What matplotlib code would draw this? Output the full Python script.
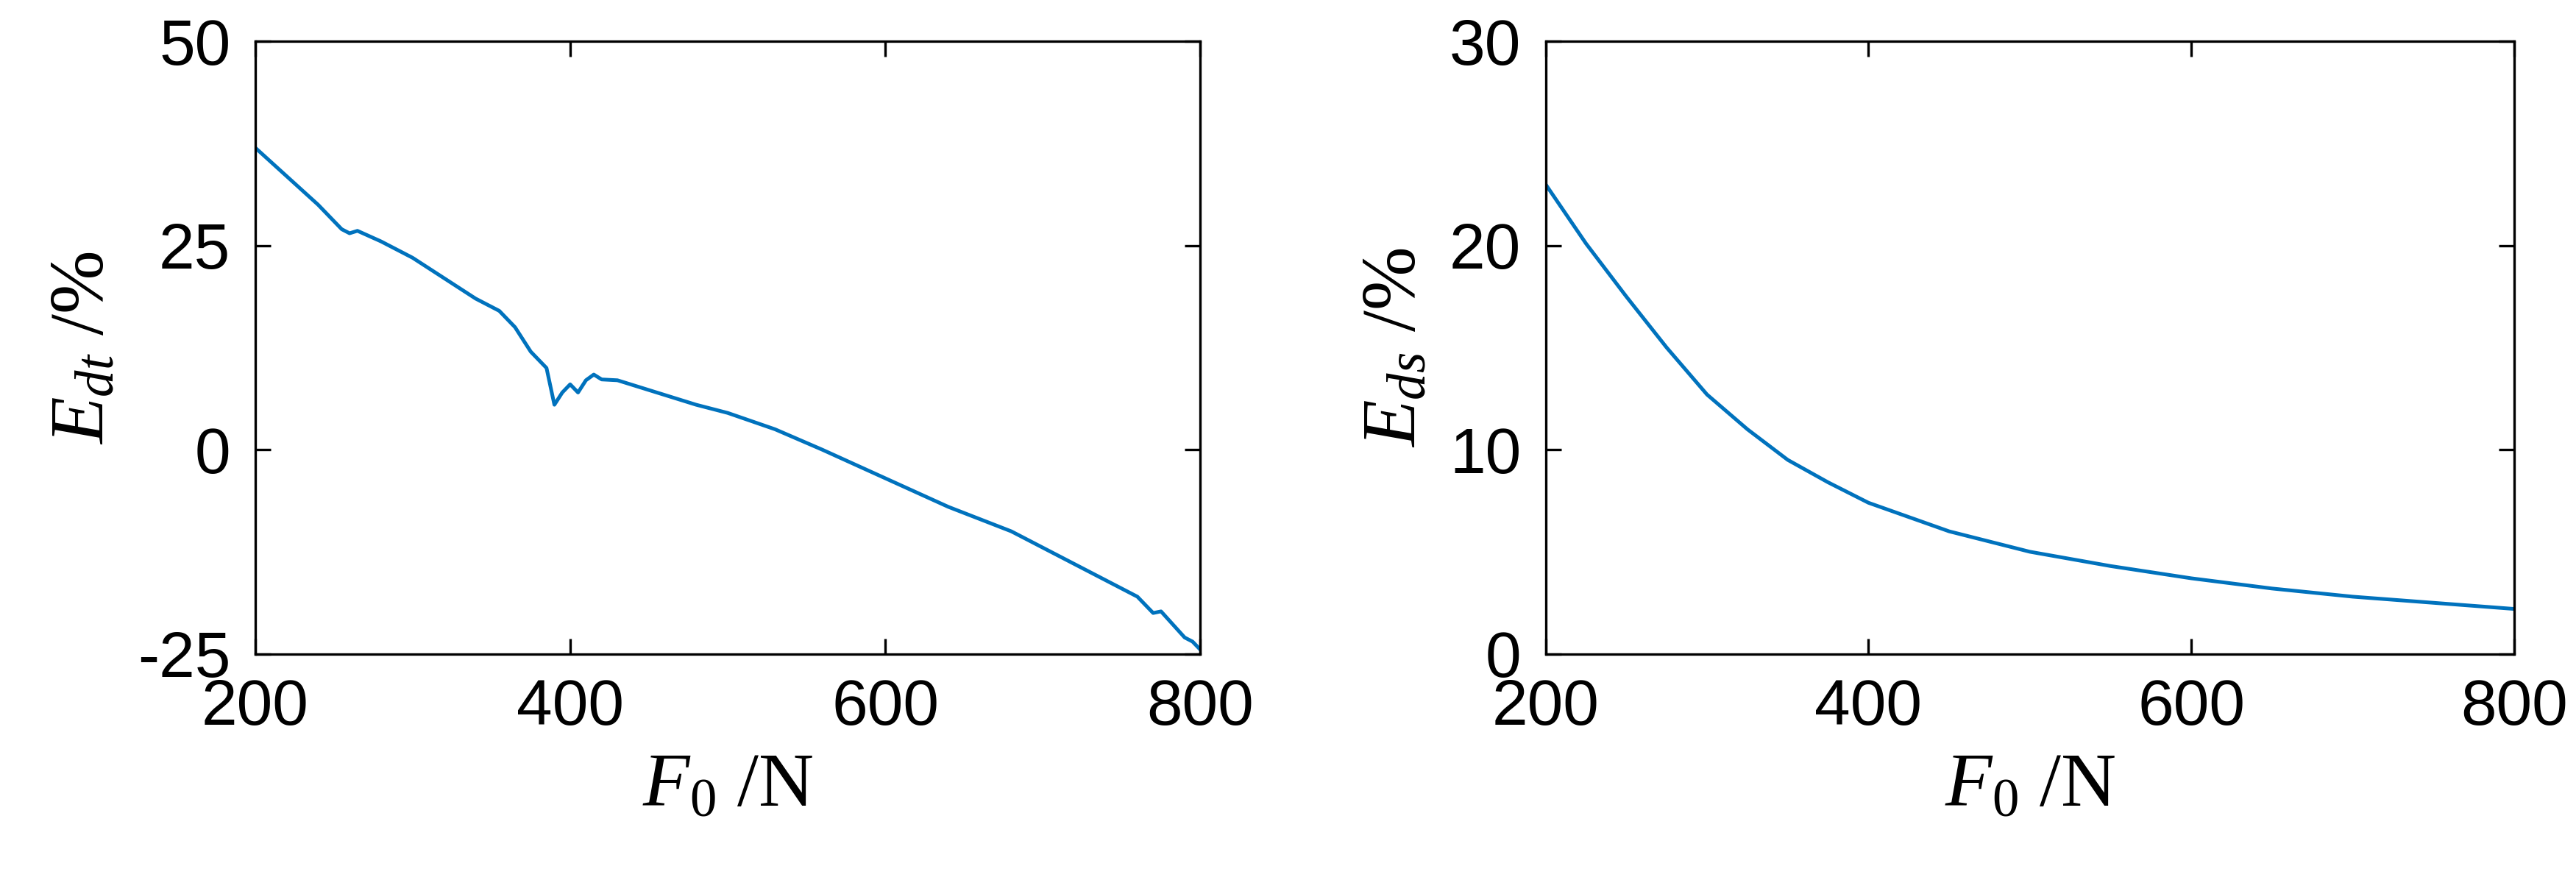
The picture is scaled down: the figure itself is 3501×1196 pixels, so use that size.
import matplotlib
matplotlib.use('Agg')
import matplotlib.pyplot as plt

plt.rcParams['font.family'] = ['Liberation Sans', 'DejaVu Sans']
plt.rcParams['mathtext.fontset'] = 'custom'
plt.rcParams['mathtext.rm'] = 'Liberation Serif'
plt.rcParams['mathtext.it'] = 'Liberation Serif:italic'
plt.rcParams['axes.unicode_minus'] = False

# left panel: E_dt vs F0
f_dt = [200, 220, 240, 255, 260, 265, 280, 300, 320, 340, 355, 365, 375, 385, 390,
        395, 400, 405, 410, 415, 420, 430, 450, 480, 500, 530, 560, 600, 640, 680,
        700, 730, 750, 760, 770, 775, 790, 795, 800]
e_dt = [37, 33.5, 30, 27, 26.5, 26.8, 25.5, 23.5, 21, 18.5, 17, 15, 12, 10, 5.5,
        7, 8, 7, 8.5, 9.2, 8.6, 8.5, 7.3, 5.5, 4.5, 2.5, 0, -3.5, -7, -10,
        -12, -15, -17, -18, -20, -19.8, -23, -23.5, -24.5]

# right panel: E_ds vs F0
f_ds = [200, 225, 250, 275, 300, 325, 350, 375, 400, 450, 500, 550, 600, 650, 700, 750, 800]
e_ds = [23, 20.1, 17.5, 15, 12.7, 11, 9.5, 8.4, 7.4, 6, 5, 4.3, 3.7, 3.2, 2.8, 2.5, 2.2]

fig = plt.figure(figsize=(3501 / 300, 1196 / 300), dpi=300)
ax1 = fig.add_axes([0.099, 0.257, 0.367, 0.696])
ax2 = fig.add_axes([0.600, 0.257, 0.376, 0.696])

blue = '#0072BD'
ax1.plot(f_dt, e_dt, color=blue, linewidth=1.2)
ax1.set_xlim(200, 800)
ax1.set_ylim(-25, 50)
ax1.set_yticks([-25, 0, 25, 50])
ax1.set_ylabel(r'$E_{dt}\ \mathrm{/\%}$', fontsize=25, labelpad=6)

ax2.plot(f_ds, e_ds, color=blue, linewidth=1.2)
ax2.set_xlim(200, 800)
ax2.set_ylim(0, 30)
ax2.set_yticks([0, 10, 20, 30])
ax2.set_ylabel(r'$E_{ds}\ \mathrm{/\%}$', fontsize=25, labelpad=6)

for ax in (ax1, ax2):
    ax.set_xticks([200, 400, 600, 800])
    ax.set_xlabel(r'$F_0\ \mathrm{/N}$', fontsize=25, labelpad=4)
    ax.tick_params(direction='in', labelsize=21, top=True, right=True, length=5, pad=8)
    for s in ax.spines.values():
        s.set_linewidth(0.8)

fig.savefig('out.png', dpi=300)
